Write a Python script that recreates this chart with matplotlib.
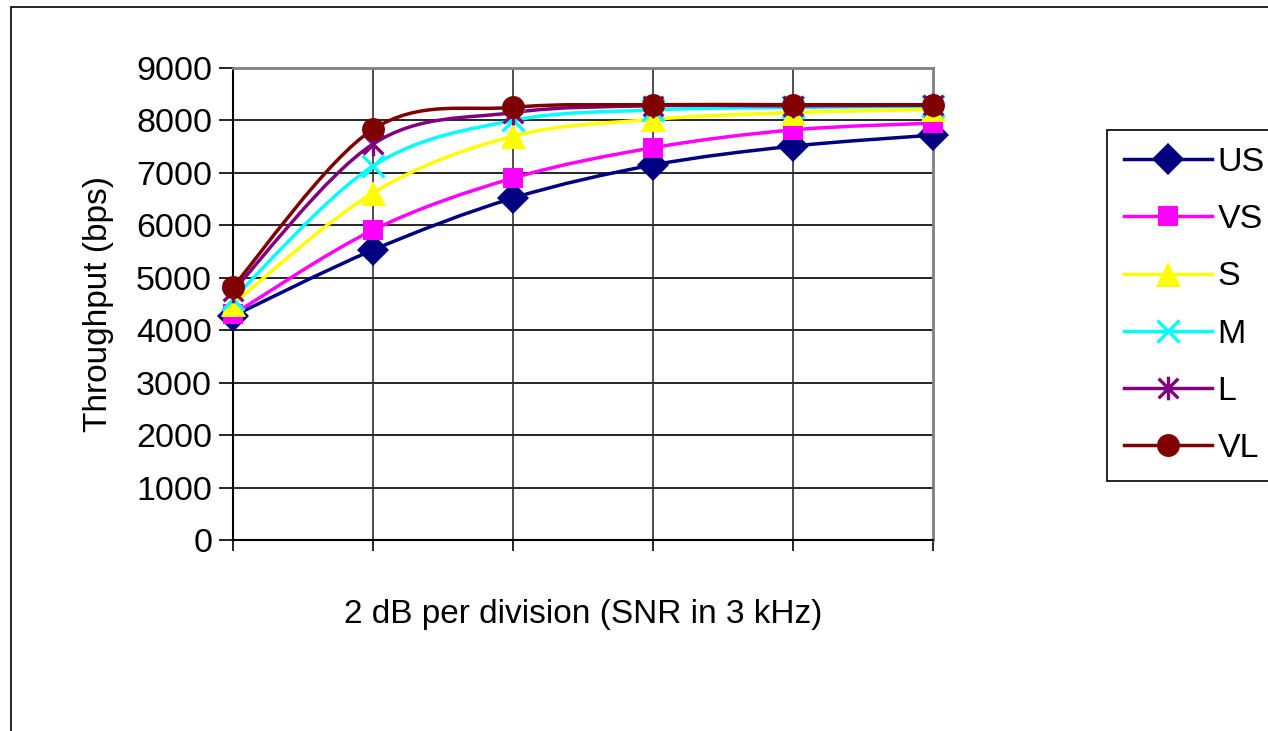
import numpy as np
import matplotlib
matplotlib.use("Agg")
import matplotlib.pyplot as plt
import matplotlib.patches as mpatches
from matplotlib.path import Path
from matplotlib.lines import Line2D

plt.rcParams["font.family"] = ["Liberation Sans", "DejaVu Sans"]

# -----------------------------------------------------------------------
# Data: throughput per SNR step (2 dB per division)
# -----------------------------------------------------------------------
snr_steps = [0, 1, 2, 3, 4, 5]
series_names = ["US", "VS", "S", "M", "L", "VL"]
us = [4270, 5530, 6520, 7150, 7510, 7720]
vs = [4300, 5910, 6900, 7480, 7820, 7950]
s  = [4500, 6620, 7700, 8020, 8150, 8210]
m  = [4600, 7130, 8000, 8200, 8250, 8270]
l  = [4750, 7550, 8150, 8280, 8280, 8290]
vl = [4830, 7830, 8250, 8300, 8300, 8300]

# -----------------------------------------------------------------------
# Styles
# -----------------------------------------------------------------------
STAR = Path([(-1, -1), (1, 1), (-1, 1), (1, -1), (0, -1.2), (0, 1.2)],
            [Path.MOVETO, Path.LINETO, Path.MOVETO, Path.LINETO, Path.MOVETO, Path.LINETO])

styles = {
    "US": dict(color="#000080", marker="D", ms=16, mew=0),
    "VS": dict(color="#FF00FF", marker="s", ms=14.5, mew=0),
    "S":  dict(color="#FFFF00", marker="^", ms=18, mew=0),
    "M":  dict(color="#00FFFF", marker="x", ms=16, mew=2.4),
    "L":  dict(color="#800080", marker=STAR, ms=17, mew=2.4),
    "VL": dict(color="#800000", marker="o", ms=16.5, mew=0),
}


def smooth_path(x, y):
    """Bezier path through the points, with Catmull-Rom style control points."""
    x = np.asarray(x, float)
    y = np.asarray(y, float)
    n = len(x)
    verts = [(x[0], y[0])]
    codes = [Path.MOVETO]
    for i in range(n - 1):
        p0 = np.array([x[max(i - 1, 0)], y[max(i - 1, 0)]])
        p1 = np.array([x[i], y[i]])
        p2 = np.array([x[i + 1], y[i + 1]])
        p3 = np.array([x[min(i + 2, n - 1)], y[min(i + 2, n - 1)]])
        c1 = p1 + (p2 - p0) / 6.0
        c2 = p2 - (p3 - p1) / 6.0
        verts += [tuple(c1), tuple(c2), tuple(p2)]
        codes += [Path.CURVE4] * 3
    return Path(verts, codes)


W, H = 1268, 731
fig = plt.figure(figsize=(W / 100, H / 100), dpi=100, facecolor="white")

# outer chart-area frame
fig.patches.append(mpatches.Rectangle((11 / W, -0.1), 1.2, 1 - 7 / H + 0.1,
                                      transform=fig.transFigure, fill=False,
                                      edgecolor="black", linewidth=1.2))

ax = fig.add_axes([233 / W, 1 - 540 / H, 700 / W, 472 / H])
ax.set_xlim(0, 5)
ax.set_ylim(0, 9000)
ax.set_yticks(range(0, 9001, 1000))
ax.set_xticks(snr_steps)
ax.set_xticklabels([])
ax.tick_params(axis="y", labelsize=24.5, length=10, width=1.2, pad=5, direction="out")
ax.tick_params(axis="x", length=8, width=1.2, direction="out")

for v in range(1000, 9000, 1000):
    ax.axhline(v, color="black", linewidth=1.2, zorder=1)
for xv in snr_steps[1:-1]:
    ax.axvline(xv, color="#303030", linewidth=1.2, zorder=1)

ax.spines["left"].set_linewidth(1.5)
ax.spines["bottom"].set_linewidth(1.5)
ax.spines["top"].set_color("#808080")
ax.spines["right"].set_color("#808080")
ax.spines["top"].set_linewidth(2)
ax.spines["right"].set_linewidth(2)

ax.set_ylabel("Throughput (bps)", fontsize=24, labelpad=16)
ax.set_xlabel("2 dB per division (SNR in 3 kHz)", fontsize=24, labelpad=31)

handles = []
for name, vals in zip(series_names, [us, vs, s, m, l, vl]):
    st = styles[name]
    ax.add_patch(mpatches.PathPatch(smooth_path(snr_steps, vals), fill=False,
                                    edgecolor=st["color"], linewidth=2.5, zorder=3))
    ax.plot(snr_steps, vals, linestyle="none", marker=st["marker"], markersize=st["ms"],
            color=st["color"], markeredgecolor=st["color"], markeredgewidth=st["mew"],
            zorder=4, clip_on=False)
    handles.append(Line2D([], [], color=st["color"], linewidth=2.5, marker=st["marker"],
                          markersize=st["ms"], markeredgecolor=st["color"],
                          markeredgewidth=st["mew"]))

leg = fig.legend(handles, series_names, loc="upper left",
                 bbox_to_anchor=(1107 / W, 1 - 130 / H), fontsize=24.5,
                 frameon=True, fancybox=False, edgecolor="black", framealpha=1,
                 handlelength=2.6, handletextpad=0.15, labelspacing=0.77,
                 borderpad=0.5, borderaxespad=0)
leg.get_frame().set_linewidth(1.2)

fig.savefig("out.png", dpi=100, facecolor="white")
